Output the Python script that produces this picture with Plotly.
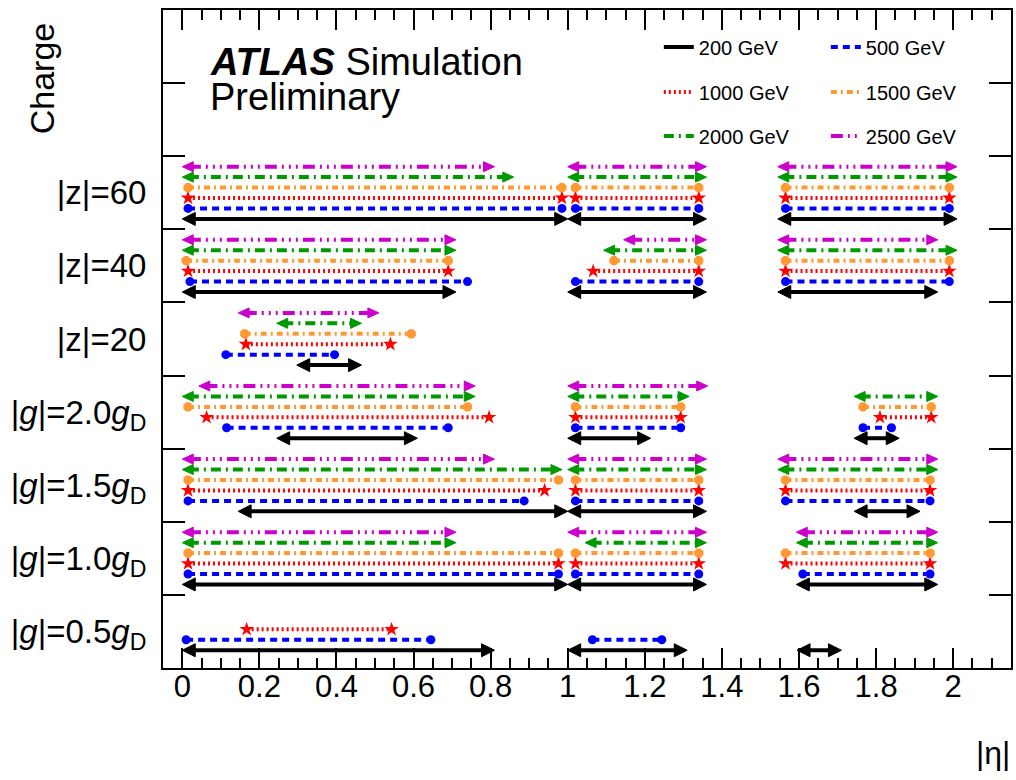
import plotly.graph_objects as go

# ---------------- data ----------------
row_labels = [
    "|<i>g</i>|=0.5<i>g</i><sub>D</sub>",
    "|<i>g</i>|=1.0<i>g</i><sub>D</sub>",
    "|<i>g</i>|=1.5<i>g</i><sub>D</sub>",
    "|<i>g</i>|=2.0<i>g</i><sub>D</sub>",
    "|z|=20",
    "|z|=40",
    "|z|=60",
]
energies = ["200 GeV", "500 GeV", "1000 GeV", "1500 GeV", "2000 GeV", "2500 GeV"]

# (row index, |eta| low, |eta| high)
seg_200 = [
    (0, 0.00, 0.81), (0, 1.00, 1.31), (0, 1.595, 1.71),
    (1, 0.00, 1.00), (1, 1.00, 1.36), (1, 1.593, 1.96),
    (2, 0.145, 1.00), (2, 1.00, 1.36), (2, 1.743, 1.914),
    (3, 0.245, 0.61), (3, 1.00, 1.215), (3, 1.743, 1.86),
    (4, 0.297, 0.465),
    (5, 0.00, 0.71), (5, 1.00, 1.36), (5, 1.545, 1.96),
    (6, 0.00, 1.00), (6, 1.00, 1.36), (6, 1.545, 2.01),
]
seg_500 = [
    (0, 0.01, 0.645), (0, 1.064, 1.244),
    (1, 0.015, 0.976), (1, 1.02, 1.34), (1, 1.61, 1.94),
    (2, 0.015, 0.887), (2, 1.02, 1.34), (2, 1.565, 1.94),
    (3, 0.115, 0.69), (3, 1.02, 1.293), (3, 1.766, 1.84),
    (4, 0.113, 0.395),
    (5, 0.02, 0.74), (5, 1.02, 1.34), (5, 1.565, 1.99),
    (6, 0.015, 0.985), (6, 1.02, 1.34), (6, 1.565, 1.99),
]
seg_1000 = [
    (0, 0.167, 0.543),
    (1, 0.015, 0.976), (1, 1.02, 1.34), (1, 1.565, 1.94),
    (2, 0.015, 0.94), (2, 1.02, 1.34), (2, 1.565, 1.94),
    (3, 0.063, 0.796), (3, 1.02, 1.293), (3, 1.81, 1.943),
    (4, 0.165, 0.54),
    (5, 0.015, 0.69), (5, 1.066, 1.34), (5, 1.565, 1.99),
    (6, 0.015, 0.985), (6, 1.02, 1.34), (6, 1.565, 1.99),
]
seg_1500 = [
    (1, 0.015, 0.976), (1, 1.02, 1.34), (1, 1.565, 1.94),
    (2, 0.015, 0.976), (2, 1.02, 1.34), (2, 1.565, 1.94),
    (3, 0.015, 0.74), (3, 1.02, 1.293), (3, 1.766, 1.943),
    (4, 0.162, 0.594),
    (5, 0.01, 0.69), (5, 1.12, 1.34), (5, 1.565, 1.99),
    (6, 0.015, 0.985), (6, 1.02, 1.34), (6, 1.565, 1.99),
]
seg_2000 = [
    (1, 0.00, 0.71), (1, 1.045, 1.36), (1, 1.593, 1.96),
    (2, 0.00, 0.985), (2, 1.00, 1.36), (2, 1.545, 1.96),
    (3, 0.00, 0.76), (3, 1.00, 1.315), (3, 1.743, 1.96),
    (4, 0.245, 0.465),
    (5, 0.00, 0.71), (5, 1.093, 1.36), (5, 1.545, 2.01),
    (6, 0.00, 0.86), (6, 1.00, 1.36), (6, 1.545, 2.01),
]
seg_2500 = [
    (1, 0.00, 0.71), (1, 1.00, 1.36), (1, 1.593, 1.96),
    (2, 0.00, 0.81), (2, 1.00, 1.36), (2, 1.545, 1.96),
    (3, 0.043, 0.76), (3, 1.00, 1.363),
    (4, 0.145, 0.51),
    (5, 0.00, 0.71), (5, 1.145, 1.36), (5, 1.545, 1.96),
    (6, 0.00, 0.81), (6, 1.00, 1.36), (6, 1.545, 2.01),
]
segments = [seg_200, seg_500, seg_1000, seg_1500, seg_2000, seg_2500]

x_tickvals = [0, 0.2, 0.4, 0.6, 0.8, 1.0, 1.2, 1.4, 1.6, 1.8, 2.0]
x_ticktext = ["0", "0.2", "0.4", "0.6", "0.8", "1", "1.2", "1.4", "1.6", "1.8", "2"]

# ---------------- style ----------------
colors = ["#000000", "#0000ff", "#ff0000", "#ff9933", "#009900", "#cc00cc"]
dashes = ["solid", "7px,5px", "2px,3px", "6px,4px,2px,4px",
          "10px,5px,2px,5px", "12px,5px,2px,5px,2px,5px,2px,5px"]
widths = [4, 4, 4, 4, 4, 4]
# head style: ("tri", length px, half height px) or ("mk", symbol, size)
heads = [("tri", 13, 6.5), ("mk", "circle", 9), ("mk", "star", 11),
         ("mk", "octagon", 10), ("tri", 11, 5), ("tri", 11, 5)]
row_offset = [0.1, 0, 0, 0, 0, 0, 0]
legend_of = ["legend", "legend", "legend2", "legend2", "legend3", "legend3"]

W, H = 1016, 780
ML, MR, MT, MB = 163, 3, 10, 112
PW, PH = W - ML - MR, H - MT - MB
XMIN, XMAX = -0.05, 2.15
YMIN, YMAX = 0, 9
pxx = PW / (XMAX - XMIN)
pxy = PH / (YMAX - YMIN)

FONT = "Liberation Sans, Arial, Helvetica, sans-serif"

fig = go.Figure()

for lev, (segs, col) in enumerate(zip(segments, colors)):
    kind = heads[lev]
    lx, ly = [], []
    hx, hy = [], []
    mx, my = [], []
    for (r, lo, hi) in segs:
        y = r + row_offset[r] + (lev + 1) / 7.0
        if kind[0] == "tri":
            L = kind[1] / pxx
            Hh = kind[2] / pxy
            lx += [lo + 0.6 * L, hi - 0.6 * L, None]
            ly += [y, y, None]
            hx += [lo, lo + L, lo + L, lo, None, hi, hi - L, hi - L, hi, None]
            hy += [y, y + Hh, y - Hh, y, None, y, y + Hh, y - Hh, y, None]
        else:
            lx += [lo, hi, None]
            ly += [y, y, None]
            mx += [lo, hi]
            my += [y, y]
    fig.add_trace(go.Scatter(
        x=lx, y=ly, mode="lines", name=energies[lev],
        line=dict(color=col, width=widths[lev], dash=dashes[lev]),
        legend=legend_of[lev], hoverinfo="skip"))
    if kind[0] == "tri":
        fig.add_trace(go.Scatter(
            x=hx, y=hy, mode="lines", fill="toself", fillcolor=col,
            line=dict(color=col, width=1), showlegend=False, hoverinfo="skip"))
    else:
        fig.add_trace(go.Scatter(
            x=mx, y=my, mode="markers", showlegend=False, hoverinfo="skip",
            marker=dict(symbol=kind[1], size=kind[2], color=col,
                        line=dict(width=0))))

def px2paper(px, py):
    return (px - ML) / PW, (H - MB - py) / PH

annotations = []
ax, ay = px2paper(208, 62)
annotations.append(dict(x=ax, y=ay, xref="paper", yref="paper", xanchor="left",
                        yanchor="middle", showarrow=False,
                        text="<b><i>ATLAS</i></b> Simulation",
                        font=dict(family=FONT, size=38, color="black")))
ax, ay = px2paper(208, 97)
annotations.append(dict(x=ax, y=ay, xref="paper", yref="paper", xanchor="left",
                        yanchor="middle", showarrow=False, text="Preliminary",
                        font=dict(family=FONT, size=38, color="black")))
ax, ay = px2paper(42, 78)
annotations.append(dict(x=ax, y=ay, xref="paper", yref="paper", xanchor="center",
                        yanchor="middle", showarrow=False, text="Charge",
                        textangle=-90,
                        font=dict(family=FONT, size=34, color="black")))
ax, ay = px2paper(1014, 753)
annotations.append(dict(x=ax, y=ay, xref="paper", yref="paper", xanchor="right",
                        yanchor="middle", showarrow=False, text="|η|",
                        font=dict(family=FONT, size=32, color="black")))

leg_common = dict(orientation="h", bgcolor="rgba(0,0,0,0)", borderwidth=0,
                  entrywidth=122, entrywidthmode="pixels",
                  font=dict(family=FONT, size=20, color="black"),
                  xanchor="left", yanchor="middle", tracegroupgap=0)
lx0, _ = px2paper(660, 0)

fig.update_layout(
    width=W, height=H,
    margin=dict(l=ML, r=MR, t=MT, b=MB, pad=0),
    paper_bgcolor="white", plot_bgcolor="white",
    font=dict(family=FONT, color="black"),
    xaxis=dict(range=[XMIN, XMAX], tickvals=x_tickvals, ticktext=x_ticktext,
               ticks="inside", ticklen=20, tickwidth=1.5, tickcolor="black",
               minor=dict(dtick=0.05, tick0=0, ticks="inside", ticklen=10,
                          tickwidth=1.5, tickcolor="black"),
               showline=True, linewidth=2, linecolor="black", mirror="allticks",
               showgrid=False, zeroline=False,
               tickfont=dict(family=FONT, size=31, color="black"),
               ticklabelstandoff=-10),
    yaxis=dict(range=[YMIN, YMAX], tickvals=[r + 0.5 for r in range(len(row_labels))],
               ticktext=row_labels, ticks="",
               minor=dict(tickvals=list(range(1, 9)), ticks="inside", ticklen=22,
                          tickwidth=1.5, tickcolor="black"),
               showline=True, linewidth=2, linecolor="black", mirror="allticks",
               showgrid=False, zeroline=False,
               tickfont=dict(family=FONT, size=33, color="black"),
               ticklabelstandoff=8),
    annotations=annotations,
    legend=dict(x=lx0, y=px2paper(0, 47)[1], **leg_common),
    legend2=dict(x=lx0, y=px2paper(0, 92)[1], **leg_common),
    legend3=dict(x=lx0, y=px2paper(0, 136)[1], **leg_common),
    showlegend=True,
)

fig.write_html("out.html")
